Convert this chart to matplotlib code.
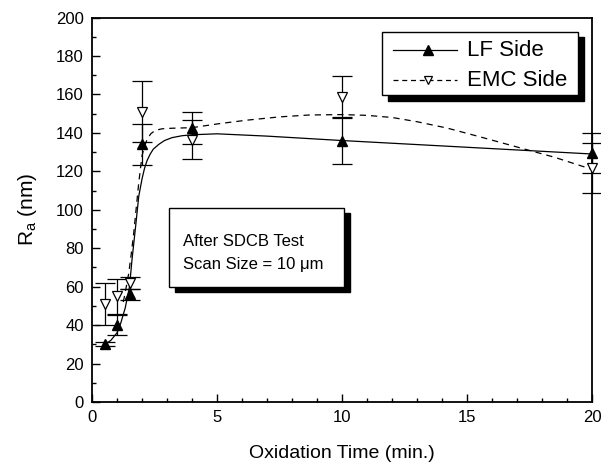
import matplotlib
matplotlib.use("Agg")
import matplotlib.pyplot as plt
from matplotlib.patches import Rectangle
from matplotlib.ticker import MultipleLocator

plt.rcParams['font.family'] = ['Liberation Sans', 'DejaVu Sans']
plt.rcParams['mathtext.fontset'] = 'custom'
plt.rcParams['mathtext.rm'] = 'Liberation Sans'
plt.rcParams['mathtext.it'] = 'Liberation Sans'

# ---- data ----
time = [0.5, 1.0, 1.5, 2.0, 4.0, 10.0, 20.0]
lf_ra = [30, 40, 56, 134, 142.5, 136, 129.5]
lf_err = [1, 5, 3, 10.5, 8.5, 12, 10.5]
emc_ra = [51, 55, 62, 151, 136.5, 158.5, 121.7]
emc_err = [11, 9, 3, 16, 10.3, 11, 13]

# fitted curves
lf_fit_x = [0.45, 0.75, 1.0, 1.15, 1.33, 1.5, 1.6, 1.75, 1.87, 2.0, 2.1, 2.2, 2.33, 2.45, 2.67, 2.9, 3.2, 3.6, 4.0, 5.0, 7.0, 10.0, 15.0, 20.0]
lf_fit_y = [29.5, 32, 36, 41, 49, 60, 74, 92, 107, 116, 121.5, 125.5, 129, 131.5, 134, 136, 137.5, 138.5, 139, 139.5, 138.3, 136, 132.5, 129]
emc_fit_x = [1.25, 1.33, 1.47, 1.57, 1.67, 1.77, 1.87, 2.0, 2.1, 2.2, 2.35, 2.53, 2.8, 3.2, 4.0, 5.1, 6.2, 7.5, 8.7, 10.0, 11.0, 12.0, 13.0, 14.2, 15.5, 16.9, 18.5, 20.0]
emc_fit_y = [52, 57, 67, 77, 88, 101, 114, 128, 133, 136.5, 139.5, 141.3, 142.1, 142.4, 142.7, 144.8, 146.6, 148.3, 149.3, 149.5, 149.1, 148, 145.8, 142.5, 138, 133, 127.3, 121]

fig = plt.figure(figsize=(6.01, 4.63), dpi=100)
ax = fig.add_axes([92/601, (463-402)/463, 500/601, 384.5/463])

ax.plot(lf_fit_x, lf_fit_y, color='black', lw=0.9, zorder=2)
ax.plot(emc_fit_x, emc_fit_y, color='black', lw=0.9, ls=(0, (5, 4)), zorder=2)

for ra, err in ((lf_ra, lf_err), (emc_ra, emc_err)):
    eb = ax.errorbar(time, ra, yerr=err, fmt='none', ecolor='black', elinewidth=0.9,
                     capsize=7, capthick=0.9, zorder=3)
    for art in eb.lines[1]:
        art.set_clip_on(False)
    for art in eb.lines[2]:
        art.set_clip_on(False)
ax.plot(time, lf_ra, ls='none', marker='^', ms=7, mfc='black', mec='black', zorder=4, clip_on=False)
ax.plot(time, emc_ra, ls='none', marker='v', ms=7, mfc='white', mec='black', mew=0.9, zorder=4, clip_on=False)

ax.set_xlim(0, 20)
ax.set_ylim(0, 200)
ax.xaxis.set_major_locator(MultipleLocator(5))
ax.xaxis.set_minor_locator(MultipleLocator(1))
ax.yaxis.set_major_locator(MultipleLocator(20))
ax.yaxis.set_minor_locator(MultipleLocator(10))
ax.tick_params(which='both', direction='in', top=False, right=False, labelsize=12, width=1)
ax.tick_params(which='major', length=6, pad=6)
ax.tick_params(which='minor', length=3)
for s in ax.spines.values():
    s.set_linewidth(1.3)

ax.set_xlabel('Oxidation Time (min.)', fontsize=14, labelpad=14)
ax.set_ylabel('R$_{\\mathrm{a}}$ (nm)', fontsize=15, labelpad=12)

# legend box with shadow
T = ax.transAxes
dx, dy = 0.011, 0.014
lx0, lx1, ly0, ly1 = 0.58, 0.972, 0.798, 0.962
ax.add_patch(Rectangle((lx0 + dx, ly0 - dy), lx1 - lx0, ly1 - ly0, transform=T,
                       facecolor='black', edgecolor='black', zorder=5))
ax.add_patch(Rectangle((lx0, ly0), lx1 - lx0, ly1 - ly0, transform=T,
                       facecolor='white', edgecolor='black', lw=1.0, zorder=6))
row1 = 1 - (50 - 17.5) / 384.5
row2 = 1 - (80 - 17.5) / 384.5
hx0, hx1, hm = (393 - 92) / 500, (457 - 92) / 500, (428 - 92) / 500
tx = (467 - 92) / 500
ax.plot([hx0, hx1], [row1, row1], transform=T, color='black', lw=0.9, zorder=7)
ax.plot([hm], [row1], transform=T, marker='^', ms=7, mfc='black', mec='black', zorder=8)
ax.plot([hx0, hx1], [row2, row2], transform=T, color='black', lw=0.9, ls=(0, (4, 3)), zorder=7)
ax.plot([hm], [row2], transform=T, marker='v', ms=6, mfc='white', mec='black', mew=0.9, zorder=8)
ax.text(tx, row1, 'LF Side', transform=T, fontsize=16, va='center', ha='left', zorder=8)
ax.text(tx, row2, 'EMC Side', transform=T, fontsize=16, va='center', ha='left', zorder=8)

# annotation box with shadow
bx0, bx1, by0, by1 = 0.154, 0.504, 0.299, 0.5046
ax.add_patch(Rectangle((bx0 + dx, by0 - dy), bx1 - bx0, by1 - by0, transform=T,
                       facecolor='black', edgecolor='black', zorder=5))
ax.add_patch(Rectangle((bx0, by0), bx1 - bx0, by1 - by0, transform=T,
                       facecolor='white', edgecolor='black', lw=1.0, zorder=6))
ttx = (183 - 92) / 500
ax.text(ttx, 1 - (241 - 17.5) / 384.5, 'After SDCB Test', transform=T, fontsize=12,
        va='center', ha='left', zorder=8)
ax.text(ttx, 1 - (265 - 17.5) / 384.5, 'Scan Size = 10 μm', transform=T, fontsize=12,
        va='center', ha='left', zorder=8)

fig.savefig('out.png', dpi=100)
